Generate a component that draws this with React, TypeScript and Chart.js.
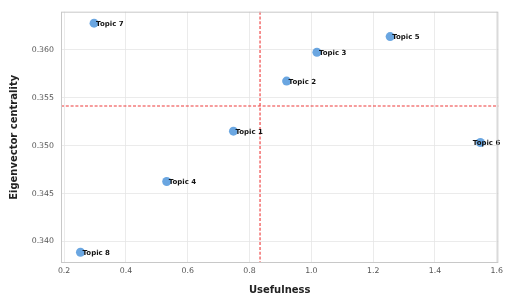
import React, { useEffect, useRef } from "react";
import { Chart, registerables } from "chart.js";

Chart.register(...registerables);

const TOPICS = ["Topic 1", "Topic 2", "Topic 3", "Topic 4", "Topic 5", "Topic 6", "Topic 7", "Topic 8"];
const USEFULNESS = [0.748, 0.92, 1.018, 0.532, 1.255, 1.547, 0.297, 0.253];
const CENTRALITY = [0.35152, 0.35675, 0.35976, 0.34626, 0.3614, 0.35034, 0.3628, 0.33887];
const X_TICKS = [0.2, 0.4, 0.6, 0.8, 1.0, 1.2, 1.4, 1.6];
const Y_TICKS = [0.34, 0.345, 0.35, 0.355, 0.36];
const REF_X = 0.834;
const REF_Y = 0.35415;

const overlay = {
  id: "overlay",
  beforeDatasetsDraw(chart: any) {
    const { ctx, chartArea, scales } = chart;
    ctx.save();
    ctx.strokeStyle = "rgba(235,35,35,0.9)";
    ctx.lineWidth = 1.1;
    ctx.setLineDash([3, 1.8]);
    const vx = scales.x.getPixelForValue(REF_X);
    const hy = scales.y.getPixelForValue(REF_Y);
    ctx.beginPath();
    ctx.moveTo(vx, chartArea.top);
    ctx.lineTo(vx, chartArea.bottom);
    ctx.moveTo(chartArea.left, hy);
    ctx.lineTo(chartArea.right, hy);
    ctx.stroke();
    ctx.restore();
  },
  afterDatasetsDraw(chart: any) {
    const { ctx, chartArea } = chart;
    const meta = chart.getDatasetMeta(0);
    ctx.save();
    ctx.font = "bold 7px 'DejaVu Sans'";
    ctx.fillStyle = "#111";
    ctx.textBaseline = "middle";
    ctx.textAlign = "left";
    meta.data.forEach((pt: any, i: number) => {
      const label = TOPICS[i];
      const w = ctx.measureText(label).width;
      let x = pt.x + 2;
      if (x + w > chartArea.right + 2) x = chartArea.right + 2 - w;
      ctx.fillText(label, x, pt.y + 1);
    });
    ctx.strokeStyle = "#c8c8c8";
    ctx.lineWidth = 1;
    ctx.setLineDash([]);
    ctx.strokeRect(chartArea.left + 0.5, chartArea.top + 0.5, chartArea.right - chartArea.left - 1, chartArea.bottom - chartArea.top - 1);
    ctx.restore();
  },
};

export default function App() {
  const ref = useRef<HTMLCanvasElement>(null);
  useEffect(() => {
    document.body.style.margin = "0";
    const chart = new Chart(ref.current!, {
      type: "scatter",
      data: {
        datasets: [
          {
            data: USEFULNESS.map((x, i) => ({ x, y: CENTRALITY[i] })),
            backgroundColor: "rgba(80,150,220,0.85)",
            borderColor: "rgba(80,150,220,0.85)",
            pointRadius: 4.5,
            borderWidth: 0,
          },
        ],
      },
      options: {
        animation: false,
        responsive: false,
        layout: { padding: { left: 0, top: 7, right: 5, bottom: 0 } },
        plugins: { legend: { display: false }, tooltip: { enabled: false } },
        scales: {
          x: {
            type: "linear",
            min: 0.19,
            max: 1.605,
            afterBuildTicks: (s: any) => {
              s.ticks = X_TICKS.map((v) => ({ value: v }));
            },
            afterFit: (s: any) => {
              s.height = 35;
            },
            grid: { color: "#e6e6e6", lineWidth: 0.8, drawTicks: false },
            border: { display: false },
            ticks: {
              padding: 3,
              color: "#555",
              font: { family: "DejaVu Sans", size: 7.8 },
              callback: (v: any) => Number(v).toFixed(1),
            },
            title: {
              display: true,
              text: "Usefulness",
              color: "#222",
              font: { family: "DejaVu Sans", size: 10, weight: "bold" },
              padding: { top: 0, bottom: 2 },
            },
          },
          y: {
            type: "linear",
            min: 0.33775,
            max: 0.364,
            afterBuildTicks: (s: any) => {
              s.ticks = Y_TICKS.map((v) => ({ value: v }));
            },
            afterFit: (s: any) => {
              s.width = 61;
            },
            grid: { color: "#e6e6e6", lineWidth: 0.8, drawTicks: false },
            border: { display: false },
            ticks: {
              padding: 7,
              color: "#555",
              font: { family: "DejaVu Sans", size: 7.8 },
              callback: (v: any) => Number(v).toFixed(3),
            },
            title: {
              display: true,
              text: "Eigenvector centrality",
              color: "#222",
              font: { family: "DejaVu Sans", size: 10, weight: "bold" },
              padding: { top: 8, bottom: 0 },
            },
          },
        },
      },
      plugins: [overlay],
    });
    return () => chart.destroy();
  }, []);
  return <canvas ref={ref} width={506} height={298} style={{ display: "block" }} />;
}
